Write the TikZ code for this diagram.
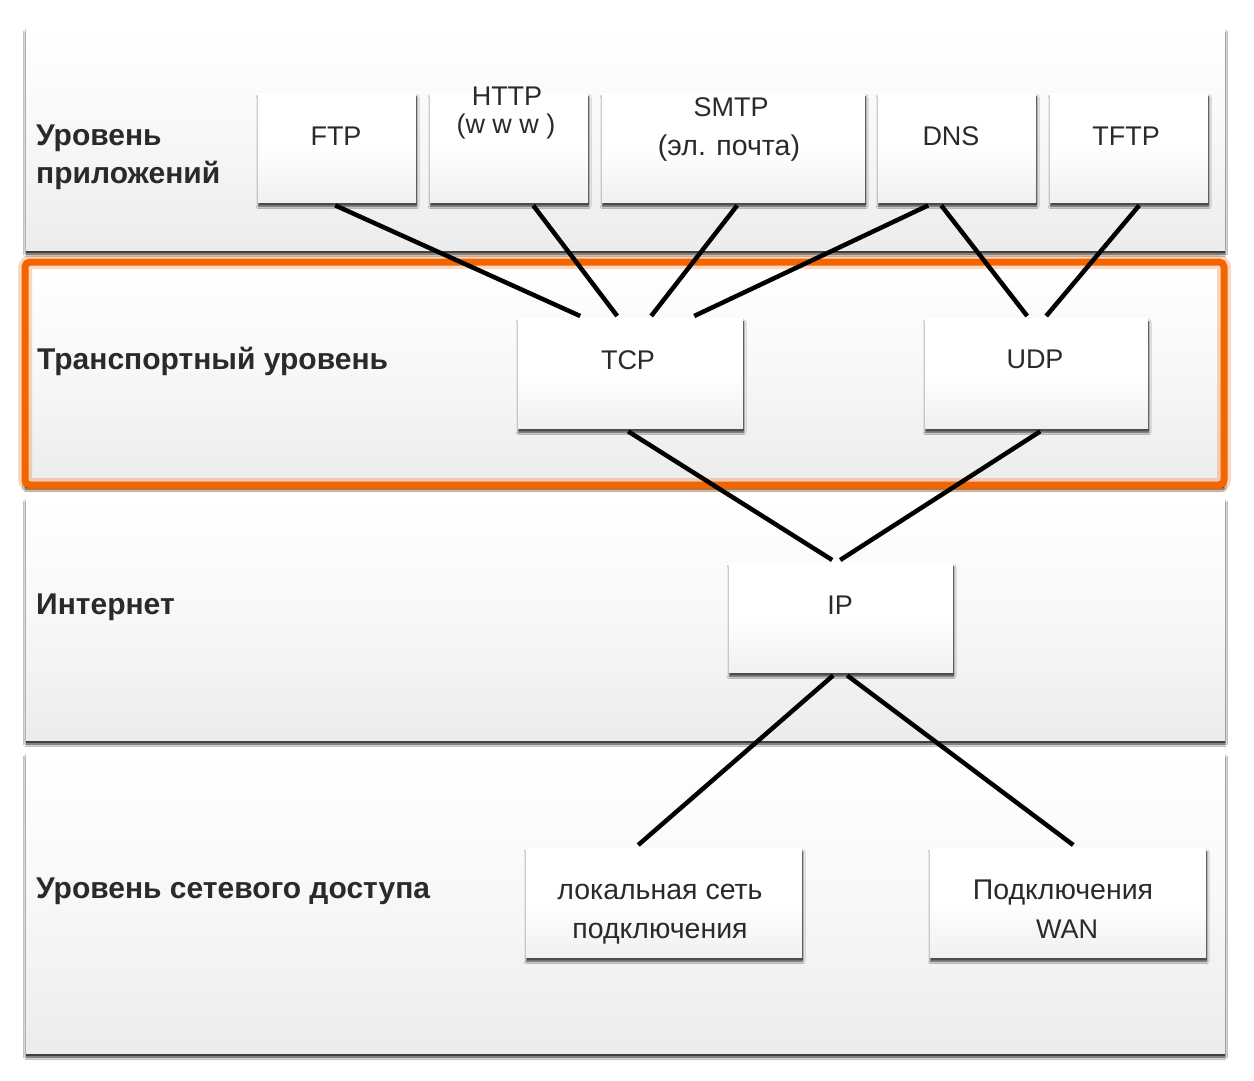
\documentclass[tikz,border=0pt]{standalone}
\usepackage{fontspec}
\setmainfont{Liberation Sans}
\usetikzlibrary{shadows,shadows.blur,calc}
\definecolor{txt}{HTML}{2A2A2A}
\definecolor{orng}{HTML}{F26500}
\definecolor{pgray}{RGB}{236,236,236}
\definecolor{bgray}{RGB}{240,240,240}
\begin{document}
\begin{tikzpicture}[x=1pt,y=-1pt,
  panel/.style={top color=white, bottom color=pgray, middle color=white!60!pgray,
    blur shadow={shadow xshift=0pt, shadow yshift=-4pt, shadow blur radius=2.5pt, shadow opacity=80},
    general shadow={fill=black!75, shadow yshift=-2.5pt}},
  box/.style={rectangle, anchor=north west, inner sep=0pt, top color=white, bottom color=bgray, middle color=white,
    blur shadow={shadow xshift=0.5pt, shadow yshift=-4pt, shadow blur radius=2.5pt, shadow opacity=80},
    general shadow={fill=black!70, shadow yshift=-2.5pt, shadow xshift=0.5pt}},
  btxt/.style={anchor=base, inner sep=0pt, text=txt, font=\fontsize{27}{32}\selectfont},
  ctxt/.style={btxt, font=\fontsize{28.5}{32}\selectfont},
  ltxt/.style={anchor=base west, inner sep=0pt, text=txt, font=\bfseries\fontsize{30}{34}\selectfont},
  conn/.style={line width=4.5pt, black}]
\useasboundingbox[fill=white] (0,0) rectangle (1254,1080);
% layer panels
\path[panel] (26,28) rectangle (1225,250);
\path[panel] (25,262) rectangle (1224,485);
\path[panel] (26,498) rectangle (1225,740);
\path[panel] (26,753) rectangle (1225,1053);
% orange highlight
\draw[orng, opacity=0.25, line width=14pt, rounded corners=6pt] (25,262) rectangle (1224,485);
\draw[orng, line width=7pt, rounded corners=5pt] (25,262) rectangle (1224,485);
% layer labels
\node[ltxt] (l1a) at (36,145) {Уровень};
\node[ltxt] (l1b) at (36,183) {приложений};
\node[ltxt] (l2) at (37,369) {Транспортный уровень};
\node[ltxt] (l3) at (36,614) {Интернет};
\node[ltxt] (l4) at (36,898) {Уровень сетевого доступа};
% boxes
\node[box, minimum width=158pt, minimum height=109pt] (ftp) at (258,93) {};
\node[box, minimum width=158pt, minimum height=109pt] (http) at (430,93) {};
\node[box, minimum width=263pt, minimum height=109pt] (smtp) at (602,93) {};
\node[box, minimum width=158pt, minimum height=109pt] (dns) at (878,93) {};
\node[box, minimum width=158pt, minimum height=109pt] (tftp) at (1050,93) {};
\node[box, minimum width=225pt, minimum height=110pt] (tcp) at (518,318) {};
\node[box, minimum width=223pt, minimum height=110pt] (udp) at (925,318) {};
\node[box, minimum width=224pt, minimum height=109pt] (ip) at (729,563) {};
\node[box, minimum width=276pt, minimum height=109pt] (lan) at (526,848) {};
\node[box, minimum width=276pt, minimum height=109pt] (wan) at (930,848) {};
% connectors
\draw[conn] ($(ftp.south)+(-2,3)$) -- ($(tcp.north)+(-50.5,-2)$);
\draw[conn] ($(http.south)+(24,3)$) -- ($(tcp.north)+(-13.5,-2)$);
\draw[conn] ($(smtp.south)+(3.5,3)$) -- ($(tcp.north)+(20.5,-2)$);
\draw[conn] ($(dns.south)+(-29,3)$) -- ($(tcp.north)+(63.5,-2)$);
\draw[conn] ($(dns.south)+(-16,3)$) -- ($(udp.north)+(-9.5,-2)$);
\draw[conn] ($(tftp.south)+(10,3)$) -- ($(udp.north)+(9.5,-2)$);
\draw[conn] ($(tcp.south)+(-2.5,3)$) -- ($(ip.north)+(-9,-3)$);
\draw[conn] ($(udp.south)+(3.5,3)$) -- ($(ip.north)+(-1,-3)$);
\draw[conn] ($(ip.south)+(-8,3)$) -- ($(lan.north)+(-26,-3)$);
\draw[conn] ($(ip.south)+(6,3)$) -- ($(wan.north)+(5,-3)$);
% box texts
\node[btxt] (tftp1) at (336,145) {FTP};
\node[btxt] (thttp1) at (507,105) {HTTP};
\node[btxt] (thttp2) at (506,133) {(w w w )};
\node[btxt] (tsmtp1) at (731,116) {SMTP};
\node[ctxt] (tsmtp2) at (729,155) {(эл. почта)};
\node[btxt] (tdns) at (951,145) {DNS};
\node[btxt] (ttftp) at (1126,145) {TFTP};
\node[btxt] (ttcp) at (628,369) {TCP};
\node[btxt] (tudp) at (1035,368) {UDP};
\node[btxt] (tip) at (840,614) {IP};
\node[ctxt] (tlan1) at (660,899) {локальная сеть};
\node[ctxt] (tlan2) at (660,938) {подключения};
\node[ctxt] (twan1) at (1063,899) {Подключения};
\node[btxt] (twan2) at (1067,938) {WAN};
\end{tikzpicture}
\end{document}
